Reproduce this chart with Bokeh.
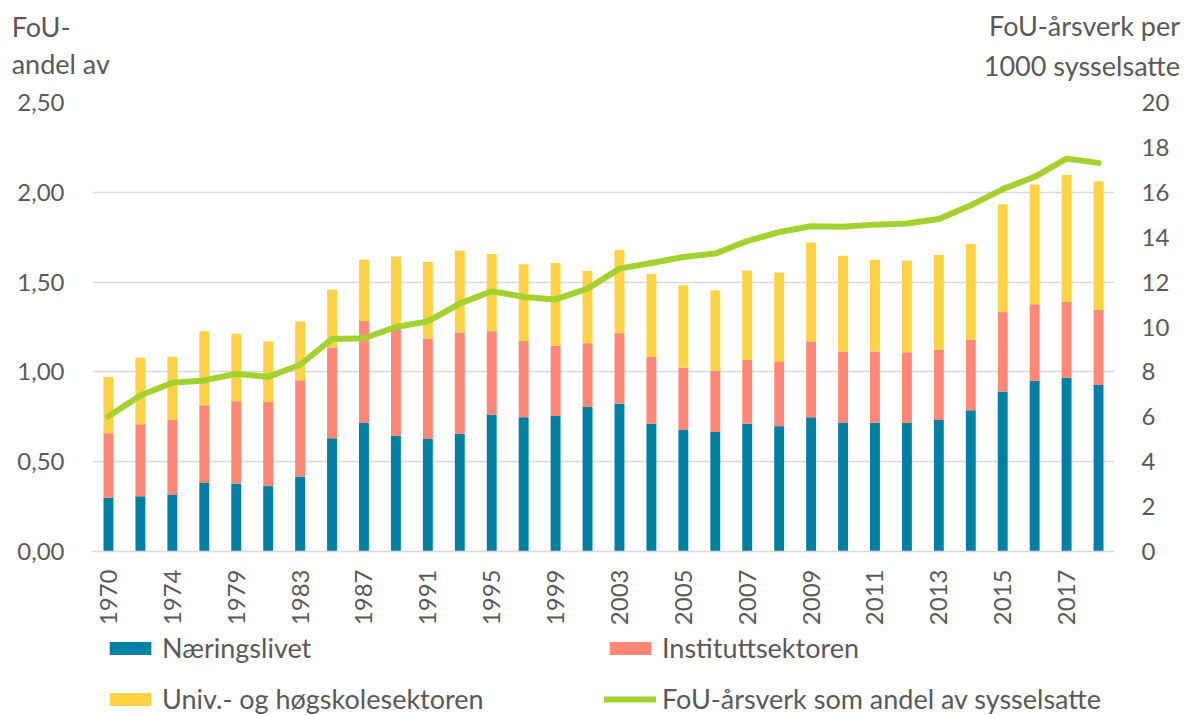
import math
from bokeh.plotting import figure
from bokeh.layouts import column
from bokeh.models import (Range1d, LinearAxis, FixedTicker, CustomJSTickFormatter,
                          Legend, LegendItem, ColumnDataSource, Div)
from bokeh.embed import file_html
from bokeh.resources import INLINE

years = ["1970", "1972", "1974", "1977", "1979", "1981", "1983", "1985", "1987", "1989",
         "1991", "1993", "1995", "1997", "1999", "2001", "2003", "2004", "2005", "2006",
         "2007", "2008", "2009", "2010", "2011", "2012", "2013", "2014", "2015", "2016",
         "2017", "2018"]
shown_labels = ["1970", "1974", "1979", "1983", "1987", "1991", "1995", "1999", "2003",
                "2005", "2007", "2009", "2011", "2013", "2015", "2017"]

naeringslivet = [0.299, 0.308, 0.314, 0.381, 0.379, 0.364, 0.418, 0.631, 0.715, 0.644,
                 0.626, 0.656, 0.760, 0.748, 0.754, 0.804, 0.823, 0.711, 0.676, 0.665,
                 0.711, 0.698, 0.747, 0.715, 0.717, 0.715, 0.732, 0.786, 0.891, 0.949,
                 0.968, 0.927]
instituttsektoren = [0.360, 0.401, 0.420, 0.434, 0.458, 0.468, 0.535, 0.505, 0.568, 0.598,
                     0.559, 0.564, 0.467, 0.424, 0.392, 0.356, 0.393, 0.372, 0.347, 0.341,
                     0.355, 0.357, 0.423, 0.399, 0.397, 0.394, 0.393, 0.395, 0.442, 0.427,
                     0.421, 0.418]
uh_sektoren = [0.312, 0.370, 0.351, 0.412, 0.376, 0.338, 0.328, 0.322, 0.342, 0.401,
               0.427, 0.455, 0.429, 0.427, 0.460, 0.402, 0.463, 0.462, 0.459, 0.448,
               0.498, 0.498, 0.551, 0.533, 0.511, 0.510, 0.526, 0.531, 0.600, 0.667,
               0.708, 0.717]
arsverk_per_1000 = [6.02, 6.95, 7.52, 7.62, 7.92, 7.77, 8.32, 9.47, 9.50, 10.00,
                    10.25, 11.04, 11.59, 11.34, 11.23, 11.71, 12.60, 12.85, 13.12, 13.27,
                    13.83, 14.23, 14.49, 14.47, 14.56, 14.61, 14.81, 15.42, 16.14, 16.69,
                    17.50, 17.31]

left_ticks = [0, 0.5, 1.0, 1.5, 2.0, 2.5]
right_ticks = [0, 2, 4, 6, 8, 10, 12, 14, 16, 18, 20]

left_title = ["FoU-", "andel av"]
right_title = ["FoU-årsverk per", "1000 sysselsatte"]
series_names = ["Næringslivet", "Instituttsektoren", "Univ.- og høgskolesektoren",
                "FoU-årsverk som andel av sysselsatte"]

FONT = "Lato"
TXT = "#595959"
GRID = "#d9d9d9"
C_BLUE = "#0080a3"
C_RED = "#ff8777"
C_YEL = "#fdd244"
C_GRN = "#a3d12e"
BAR_COLORS = [C_BLUE, C_RED, C_YEL]

W = 1184
TOP_H = 88
LEG_Y = 630
MAIN_H = LEG_Y - TOP_H
LEG_H = 715 - LEG_Y

# ---------- axis titles (top strip) ----------
span = 'position:absolute;white-space:nowrap;'
title_html = (
    f'<div style="position:relative;width:{W}px;height:{TOP_H}px;font-family:{FONT};'
    f'font-size:27px;line-height:36px;color:{TXT};overflow:visible">'
    f'<span style="{span}left:11.7px;top:9.3px">{left_title[0]}</span>'
    f'<span style="{span}left:11.7px;top:45.6px">{left_title[1]}</span>'
    f'<span style="{span}right:4px;top:8.3px">{right_title[0]}</span>'
    f'<span style="{span}right:4px;top:47.6px">{right_title[1]}</span>'
    '</div>'
)
t = Div(text=title_html, width=W, height=TOP_H, margin=0)

# ---------- main chart ----------
x_idx = list(range(len(years)))
src = ColumnDataSource(dict(x=x_idx, n=naeringslivet, i=instituttsektoren,
                            u=uh_sektoren, l=arsverk_per_1000))

p = figure(width=W, height=MAIN_H, x_range=Range1d(-0.5, len(years) - 0.5),
           y_range=Range1d(0, 2.5), output_backend="svg", toolbar_location=None,
           min_border_left=92, min_border_right=70, min_border_top=102 - TOP_H,
           min_border_bottom=MAIN_H - (551 - TOP_H))
p.title.visible = False
p.extra_y_ranges = {"right": Range1d(0, 20)}
p.outline_line_color = None

bars = p.vbar_stack(["n", "i", "u"], x="x", width=0.31, source=src,
                    color=BAR_COLORS, line_color=None)
ln = p.line(x="x", y="l", source=src, y_range_name="right", line_color=C_GRN,
            line_width=6, line_cap="round", line_join="round")

ya = p.yaxis[0]
ya.ticker = FixedTicker(ticks=left_ticks)
ya.formatter = CustomJSTickFormatter(code="return tick.toFixed(2).replace('.', ',');")
ya.axis_line_color = None
ya.major_tick_line_color = None
ya.major_tick_out = 0
ya.minor_tick_line_color = None
ya.major_label_standoff = 28
ya.major_label_text_font = FONT
ya.major_label_text_font_size = "24px"
ya.major_label_text_color = TXT

ra = LinearAxis(y_range_name="right", ticker=FixedTicker(ticks=right_ticks))
ra.axis_line_color = None
ra.major_tick_line_color = None
ra.major_tick_out = 0
ra.minor_tick_line_color = None
ra.major_label_standoff = 27
ra.major_label_text_font = FONT
ra.major_label_text_font_size = "24px"
ra.major_label_text_color = TXT
p.add_layout(ra, "right")

xa = p.xaxis[0]
xa.ticker = FixedTicker(ticks=[years.index(y) for y in shown_labels])
xa.major_label_overrides = {years.index(y): y for y in shown_labels}
xa.major_label_orientation = math.pi / 2
xa.major_tick_line_color = None
xa.major_tick_out = 0
xa.minor_tick_line_color = None
xa.axis_line_color = GRID
xa.axis_line_width = 1.5
xa.major_label_standoff = 18
xa.major_label_text_font = FONT
xa.major_label_text_font_size = "24px"
xa.major_label_text_color = TXT

p.xgrid.grid_line_color = None
p.ygrid.ticker = FixedTicker(ticks=left_ticks)
p.ygrid.grid_line_color = GRID
p.ygrid.grid_line_width = 1.5

# ---------- legend strip (legend keys share the chart's styles) ----------
lg = figure(width=W, height=LEG_H, x_range=Range1d(0, 1), y_range=Range1d(0, 1),
            output_backend="svg", toolbar_location=None, x_axis_location=None,
            y_axis_location=None, min_border=0, min_border_left=0, min_border_right=0,
            min_border_top=0, min_border_bottom=0)
lg.title.visible = False
lg.grid.visible = False
lg.outline_line_color = None
nan = float("nan")
keys = [lg.vbar(x=[nan], top=[nan], width=0.31, color=c, line_color=None)
        for c in BAR_COLORS]
keys.append(lg.line(x=[nan], y=[nan], line_color=C_GRN, line_width=6, line_cap="round"))

legend = Legend(items=[LegendItem(label=name, renderers=[r])
                       for name, r in zip(series_names, keys)],
                ncols=2, orientation="horizontal", location=(12, 0))
legend.glyph_width = 52
legend.glyph_height = 16
legend.label_standoff = 6
legend.label_width = 424
legend.label_height = 31
legend.spacing = 18
legend.padding = 0
legend.margin = 0
legend.border_line_color = None
legend.background_fill_alpha = 0
legend.label_text_font = FONT
legend.label_text_font_size = "27px"
legend.label_text_color = TXT
lg.add_layout(legend, "center")

open("out.html", "w").write(file_html(column(t, p, lg, spacing=0), INLINE))
